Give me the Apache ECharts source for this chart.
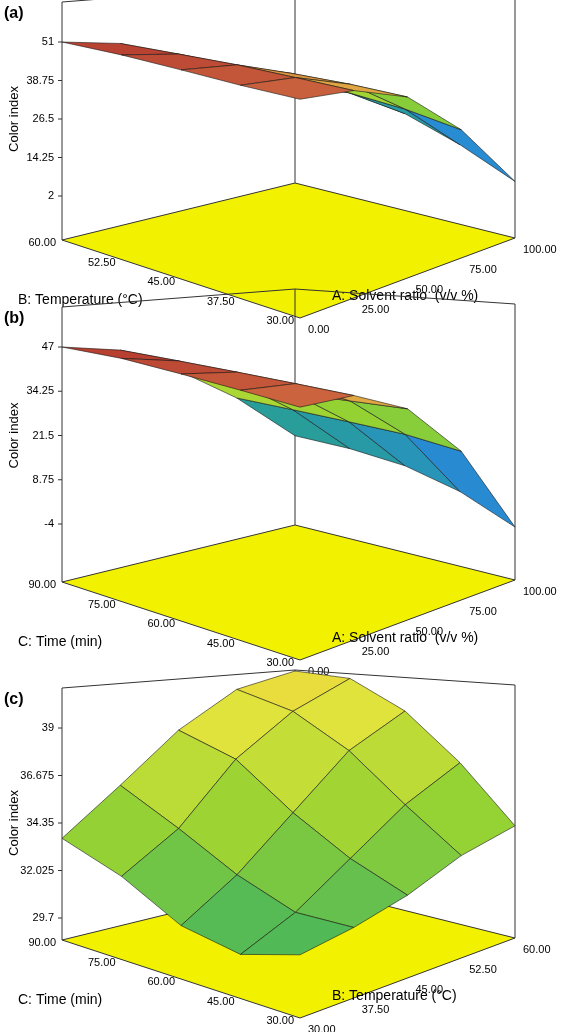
<!doctype html>
<html>
<head>
<meta charset="utf-8">
<title>Color index response surfaces</title>
<style>html,body{margin:0;padding:0;background:#fff}#main{width:567px;height:1032px}</style>
</head>
<body>
<div id="main"></div>
<script src="https://cdn.jsdelivr.net/npm/echarts@6/dist/echarts.min.js"></script>
<script>
// factor grids (5 levels each)
var solventRatio = [0, 25, 50, 75, 100];
var temperature = [30, 37.5, 45, 52.5, 60];
var timeMin = [30, 45, 60, 75, 90];

// tick labels
var ratioTicks = ['0.00', '25.00', '50.00', '75.00', '100.00'];
var tempTicks = ['30.00', '37.50', '45.00', '52.50', '60.00'];
var timeTicks = ['30.00', '45.00', '60.00', '75.00', '90.00'];
var zTicksA = [2, 14.25, 26.5, 38.75, 51];
var zTicksB = [-4, 8.75, 21.5, 34.25, 47];
var zTicksC = [29.7, 32.025, 34.35, 36.675, 39];

// color index: rows = first factor level, cols = second factor level
var colorA = [ // A (solvent ratio) x B (temperature)
  [46, 47, 48.5, 50, 51],
  [43, 44, 45, 45.5, 46],
  [36, 37, 37.5, 37, 36],
  [22, 25, 27, 27, 26],
  [3, 10, 16, 20, 22]
];
var colorB = [ // A (solvent ratio) x C (time)
  [40, 42, 44, 46, 47],
  [38, 39, 40, 41, 42],
  [30, 30, 30, 31, 32],
  [15, 17, 18, 19, 20],
  [-8, -2, 2, 4, 5]
];
var colorC = [ // B (temperature) x C (time)
  [31.2, 30.5, 31, 32.5, 33.6],
  [31.5, 31.5, 32.5, 34, 35.5],
  [32, 33, 34.5, 36.5, 37.5],
  [32.8, 34.5, 36.5, 38, 38.8],
  [33.2, 35.5, 37.5, 38.8, 39]
];

var panels = [
  {tag: '(a)', fy: 318, gap: 44, h: 154, z: colorA, zTicks: zTicksA, cLo: 0, cHi: 1,
   uTicks: ratioTicks, vTicks: tempTicks,
   uName: 'A: Solvent ratio  (v/v %)', vName: 'B: Temperature (°C)'},
  {tag: '(b)', fy: 660, gap: 58, h: 177, z: colorB, zTicks: zTicksB, cLo: 0, cHi: 1,
   uTicks: ratioTicks, vTicks: timeTicks,
   uName: 'A: Solvent ratio  (v/v %)', vName: 'C: Time (min)'},
  {tag: '(c)', fy: 1018, gap: 22, h: 190, z: colorC, zTicks: zTicksC, cLo: 0.48, cHi: 0.72,
   uTicks: tempTicks, vTicks: timeTicks,
   uName: 'B: Temperature (°C)', vName: 'C: Time (min)'}
];

function proj(p, u, v, z) {
  var F = [300, p.fy], R = [515, p.fy - 80], L = [62, p.fy - 78], B = [295, p.fy - 135];
  var w = [(1 - u) * (1 - v), u * (1 - v), (1 - u) * v, u * v];
  var x = w[0] * F[0] + w[1] * R[0] + w[2] * L[0] + w[3] * B[0];
  var y = w[0] * F[1] + w[1] * R[1] + w[2] * L[1] + w[3] * B[1];
  if (z != null) {
    var lo = p.zTicks[0], hi = p.zTicks[p.zTicks.length - 1];
    // nearer points look taller (perspective)
    var persp = 1 + 0.2 * (1 - v);
    y -= persp * (p.gap + (z - lo) / (hi - lo) * p.h);
  }
  return [x, y];
}

var stops = [[0, [30, 60, 210]], [0.25, [40, 140, 210]], [0.45, [40, 170, 110]], [0.58, [150, 210, 50]], [0.7, [235, 230, 60]], [0.82, [215, 120, 70]], [1, [170, 40, 40]]];
function cmap(t) {
  t = Math.max(0, Math.min(1, t));
  for (var i = 1; i < stops.length; i++) {
    if (t <= stops[i][0]) {
      var a = stops[i - 1], b = stops[i], f = (t - a[0]) / (b[0] - a[0]);
      var c = a[1].map(function (x, k) { return Math.round(x + (b[1][k] - x) * f); });
      return 'rgb(' + c.join(',') + ')';
    }
  }
}

// cells, drawn back to front
var cellData = [];
panels.forEach(function (p, pi) {
  var cells = [];
  for (var i = 0; i < 4; i++) for (var j = 0; j < 4; j++) cells.push([i, j, pi]);
  cells.sort(function (a, b) { return (b[0] + b[1]) - (a[0] + a[1]); });
  cellData = cellData.concat(cells);
});

function renderCell(params, api) {
  var i = api.value(0), j = api.value(1), p = panels[api.value(2)];
  var Z = p.z;
  var corners = [[i, j], [i + 1, j], [i + 1, j + 1], [i, j + 1]];
  var pts = corners.map(function (c) { return api.coord(proj(p, c[0] / 4, c[1] / 4, Z[c[0]][c[1]])); });
  var avg = (Z[i][j] + Z[i + 1][j] + Z[i + 1][j + 1] + Z[i][j + 1]) / 4;
  var lo = Math.min.apply(null, Z.map(function (r) { return Math.min.apply(null, r); }));
  var hi = Math.max.apply(null, Z.map(function (r) { return Math.max.apply(null, r); }));
  var t = p.cLo + (avg - lo) / (hi - lo) * (p.cHi - p.cLo);
  return {type: 'polygon', shape: {points: pts},
    style: {fill: cmap(t), stroke: '#1a1a1a', lineWidth: 0.6}};
}

function renderFrame(params, api) {
  var p = panels[params.dataIndex];
  var c = function (u, v, z) { return api.coord(proj(p, u, v, z)); };
  var kids = [];
  var line = function (a, b) {
    kids.push({type: 'line', shape: {x1: a[0], y1: a[1], x2: b[0], y2: b[1]}, style: {stroke: '#333', lineWidth: 1}});
  };
  kids.push({type: 'polygon', shape: {points: [c(0, 0), c(1, 0), c(1, 1), c(0, 1)]},
    style: {fill: '#f2f200', stroke: '#333', lineWidth: 1}});
  // box uprights: top sits a fixed distance above the highest tick
  var lt = c(0, 1, p.zTicks[4]), rise = 40;
  var topL = [lt[0], lt[1] - rise];
  var bb = c(1, 1), rb = c(1, 0);
  var topB = [bb[0], topL[1] - 18], topR = [rb[0], topL[1] - 3];
  line(c(0, 1), topL); line(bb, topB); line(rb, topR);
  line(topL, topB); line(topB, topR);
  var font = '11px Arial, Liberation Sans, sans-serif';
  for (var k = 0; k < 5; k++) {
    var a = c(k / 4, 0);
    kids.push({type: 'text', x: a[0] + 8, y: a[1] + 12, style: {text: p.uTicks[k], font: font, fill: '#000', verticalAlign: 'middle'}});
    var b = c(0, k / 4);
    kids.push({type: 'text', x: b[0] - 6, y: b[1] + 3, style: {text: p.vTicks[k], font: font, fill: '#000', align: 'right', verticalAlign: 'middle'}});
    var z = c(0, 1, p.zTicks[k]);
    line([z[0] - 4, z[1]], z);
    kids.push({type: 'text', x: z[0] - 8, y: z[1], style: {text: String(p.zTicks[k]), font: font, fill: '#000', align: 'right', verticalAlign: 'middle'}});
  }
  var f = c(0, 0), zm = c(0, 1, (p.zTicks[0] + p.zTicks[4]) / 2);
  var nf = '14px Arial, Liberation Sans, sans-serif';
  kids.push({type: 'text', x: f[0] + 32, y: f[1] - 22, style: {text: p.uName, font: nf, fill: '#000', verticalAlign: 'middle'}});
  kids.push({type: 'text', x: 18, y: f[1] - 18, style: {text: p.vName, font: nf, fill: '#000', verticalAlign: 'middle'}});
  kids.push({type: 'text', x: 14, y: zm[1], rotation: Math.PI / 2, style: {text: 'Color index', font: '13px Arial, Liberation Sans, sans-serif', fill: '#000', align: 'center', verticalAlign: 'middle'}});
  kids.push({type: 'text', x: 4, y: topL[1] + 12, style: {text: p.tag, font: 'bold 16px Arial, Liberation Sans, sans-serif', fill: '#000', verticalAlign: 'middle'}});
  return {type: 'group', children: kids};
}

var chart = echarts.init(document.getElementById('main'));
chart.setOption({
  animation: false,
  grid: {left: 0, right: 0, top: 0, bottom: 0},
  xAxis: {type: 'value', min: 0, max: 567, show: false},
  yAxis: {type: 'value', min: 0, max: 1032, inverse: true, show: false},
  series: [
    {type: 'custom', renderItem: renderFrame, data: [[0, 0], [0, 0], [0, 0]], clip: false, z: 1},
    {type: 'custom', renderItem: renderCell, data: cellData, clip: false, z: 2,
     encode: {x: -1, y: -1}}
  ]
});
window.onresize = chart.resize;
</script>
</body>
</html>
